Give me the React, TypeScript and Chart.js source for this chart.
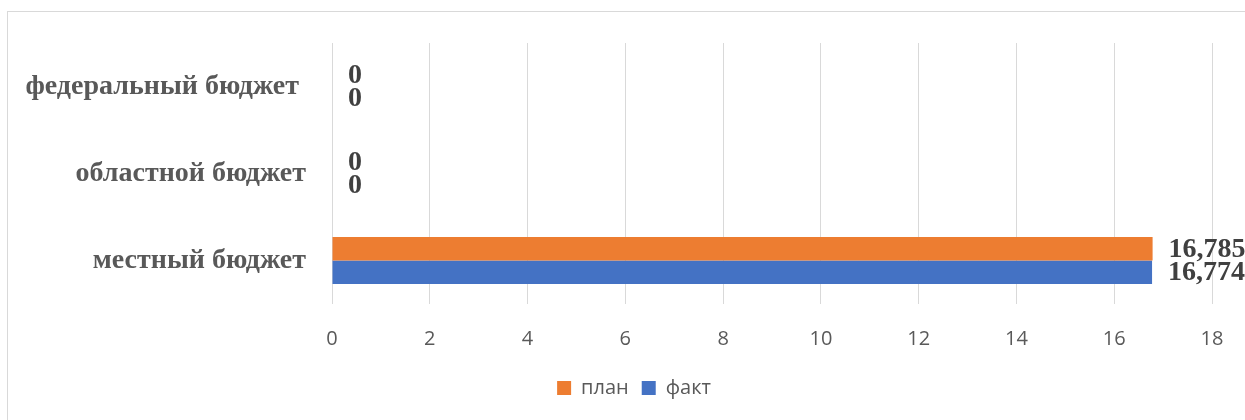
import React, { useEffect, useRef } from 'react';
import { Chart, registerables } from 'chart.js';

Chart.register(...registerables);

const categories = ['федеральный бюджет ', 'областной бюджет', 'местный бюджет'];
const seriesNames = ['план', 'факт'];
const planValues = [0, 0, 16.785];
const factValues = [0, 0, 16.774];
const xMin = 0;
const xMax = 18;
const xStep = 2;

const PLAN_COLOR = '#ED7D31';
const FACT_COLOR = '#4472C4';
const TEXT_GRAY = '#595959';
const GRID = '#d9d9d9';

const dataLabels = {
  id: 'dataLabels',
  afterDatasetsDraw(chart: any) {
    const ctx = chart.ctx;
    ctx.save();
    ctx.font = 'bold 28px "Liberation Serif", "Times New Roman", serif';
    ctx.fillStyle = '#404040';
    ctx.textAlign = 'left';
    ctx.textBaseline = 'middle';
    chart.data.datasets.forEach((ds: any, i: number) => {
      const meta = chart.getDatasetMeta(i);
      meta.data.forEach((bar: any, j: number) => {
        const v = ds.data[j];
        ctx.fillText(String(v).replace('.', ','), bar.x + 16, bar.y + 1);
      });
    });
    ctx.restore();
  },
};

export default function App() {
  const ref = useRef<HTMLCanvasElement | null>(null);

  useEffect(() => {
    if (!ref.current) return;
    const chart = new Chart(ref.current, {
      type: 'bar',
      data: {
        labels: categories,
        datasets: [
          {
            label: seriesNames[0],
            data: planValues,
            backgroundColor: PLAN_COLOR,
            borderWidth: 0,
            categoryPercentage: 0.54,
            barPercentage: 1,
          },
          {
            label: seriesNames[1],
            data: factValues,
            backgroundColor: FACT_COLOR,
            borderWidth: 0,
            categoryPercentage: 0.54,
            barPercentage: 1,
          },
        ],
      },
      options: {
        indexAxis: 'y',
        responsive: false,
        animation: false,
        layout: { padding: { left: 0, right: 0, top: 31, bottom: 24 } },
        scales: {
          x: {
            min: xMin,
            max: xMax,
            ticks: {
              stepSize: xStep,
              padding: 23,
              color: TEXT_GRAY,
              font: { family: '"Open Sans", sans-serif', size: 20 },
            },
            grid: { color: GRID, lineWidth: 1, drawTicks: false },
            border: { display: false },
            afterFit(scale: any) {
              scale.height = 61;
              scale.paddingLeft = 0;
              scale.paddingRight = 48;
            },
          },
          y: {
            ticks: {
              padding: 26,
              color: TEXT_GRAY,
              font: { family: '"Liberation Serif", "Times New Roman", serif', size: 28, weight: 'bold' },
            },
            grid: { display: false, drawTicks: false },
            border: { display: false },
            afterFit(scale: any) {
              scale.width = 324;
              scale.paddingTop = 0;
              scale.paddingBottom = 0;
            },
          },
        },
        plugins: {
          legend: {
            position: 'bottom',
            labels: {
              boxWidth: 14,
              boxHeight: 14,
              padding: 13,
              color: TEXT_GRAY,
              font: { family: '"Open Sans", sans-serif', size: 20 },
            },
          },
          tooltip: { enabled: false },
        },
      },
      plugins: [dataLabels],
    } as any);
    return () => chart.destroy();
  }, []);

  return (
    <div style={{ position: 'fixed', left: 0, top: 0, width: 1245, height: 420, overflow: 'hidden', background: '#fff' }}>
      <div
        style={{
          position: 'absolute',
          left: 7,
          top: 11,
          width: 1254,
          height: 430,
          border: '1px solid #d9d9d9',
          boxSizing: 'border-box',
        }}
      >
        <canvas ref={ref} width={1252} height={420} style={{ display: 'block', width: 1252, height: 420 }} />
      </div>
    </div>
  );
}
